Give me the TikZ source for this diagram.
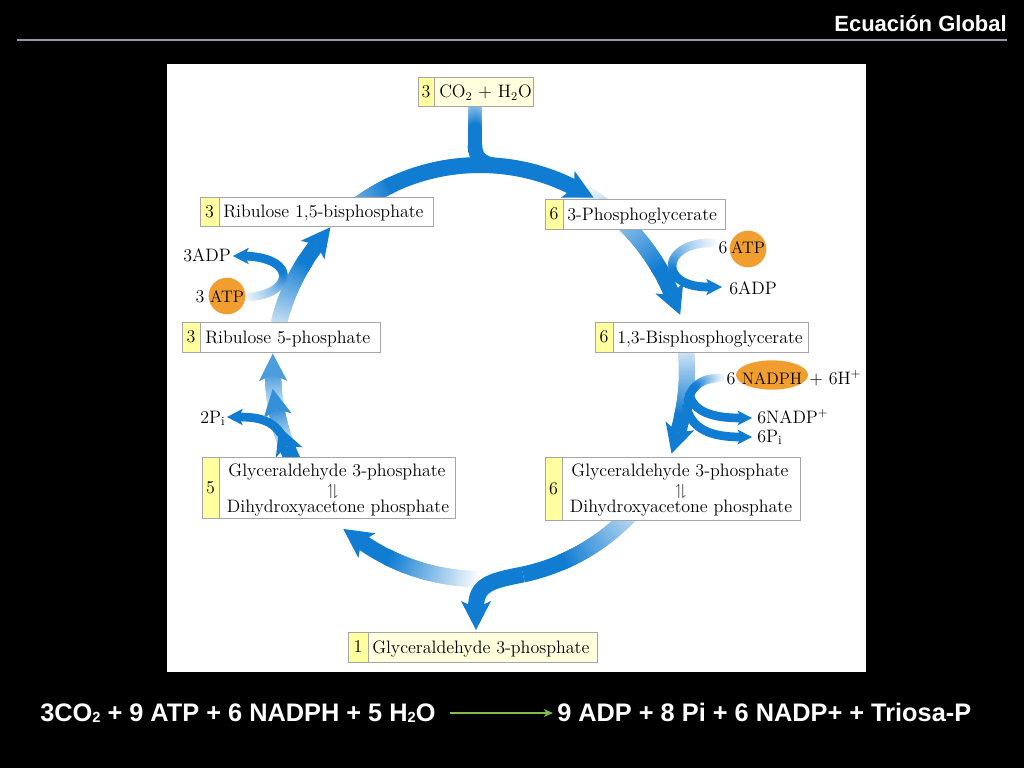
\documentclass[tikz,border=0pt]{standalone}
\usepackage{fontspec}
\usepackage{amssymb}
\usetikzlibrary{fit,calc,arrows.meta,shapes.geometric}
\newfontfamily\arialf{Liberation Sans}
\definecolor{cblue}{RGB}{16,124,210}
\definecolor{orng}{RGB}{240,158,48}
\definecolor{numyel}{RGB}{255,255,160}
\definecolor{paleyel}{RGB}{255,255,222}
\definecolor{boxgray}{RGB}{165,165,165}
\definecolor{rulecol}{RGB}{150,152,165}
\definecolor{eqgreen}{RGB}{130,190,70}
\newcommand\lbf{\fontsize{13.5}{15}\selectfont}
\newcommand\sbf{\fontsize{12.5}{14}\selectfont}
\newcommand\eqf{\arialf\bfseries\fontsize{19}{22}\selectfont}
\newcommand\eqsub[1]{\raisebox{-1pt}{\fontsize{11}{11}\selectfont #1}}
\tikzset{
  lbl/.style={inner sep=0, font=\lbf},
  boxframe/.style={draw=boxgray, line width=0.6pt, inner sep=0},
  orangeblob/.style={fill=orng, inner sep=0},
  mainw/.style={line width=12pt},
  stemw/.style={line width=11pt},
  branchw/.style={line width=6.5pt},
  harp/.style={inner sep=0, font=\fontsize{12}{13}\selectfont},
  eqtext/.style={inner sep=0, text=white, font=\eqf, text height=15pt, text depth=3pt},
  eqarrow/.style={eqgreen, line width=1.1pt, -{Stealth[length=7pt,width=6pt]}, shorten <=11pt, shorten >=3pt},
}
% gradient arc on the cycle circle
\newcommand\garc[5]{%
  \foreach \gk in {1,...,#5}{%
    \pgfmathsetmacro\garcA{#1+(#2-#1)*(\gk-1)/#5}%
    \pgfmathsetmacro\garcB{#1+(#2-#1)*\gk/#5+1.2}%
    \pgfmathtruncatemacro\gpp{#3+(#4-#3)*(\gk-0.5)/#5}%
    \draw[cblue!\gpp!white, mainw] (C) ++(\garcA:207) arc[start angle=\garcA, end angle=\garcB, radius=207];
  }}
\newcommand\sarc[2]{\draw[cblue, mainw] (C) ++(#1:207) arc[start angle=#1, end angle=#2, radius=207];}
\newcommand\headarc[3]{%
  \begin{scope}[shift={($(C)+(#1:207)$)}, rotate={-(#1)-90}, scale=#3]
    \fill[#2] (0,0) -- (-7,15) -- (22,0) -- (-7,-15) -- cycle;
  \end{scope}}
\newcommand\headat[4]{%
  \begin{scope}[shift={#1}, rotate=#2, scale=#4]
    \fill[#3] (0,0) -- (-7,15) -- (22,0) -- (-7,-15) -- cycle;
  \end{scope}}
% gradient along any path
\newcommand\gcurve[5]{%
  \path #1 foreach \gk [evaluate=\gk as \gtt using \gk/#4] in {0,...,#4} {coordinate[pos=\gtt] (g\gk)};
  \pgfmathtruncatemacro\gN{#4-1}%
  \foreach \gk [evaluate=\gk as \gkn using int(\gk+1)] in {0,...,\gN}{%
    \pgfmathtruncatemacro\gpp{min(100,#2+(#3-#2)*(\gk+0.5)/#4*1.6)}%
    \draw[cblue!\gpp!white, line cap=round, #5] (g\gk) -- (g\gkn);
  }}
% compound box
\newcommand\cbox[8]{%
  \fill[#7] (#2,#3) rectangle (#4,#5);
  \fill[numyel] (#2,#3) rectangle (#6,#5);
  \draw[boxgray, line width=0.6pt] (#6,#3) -- (#6,#5);
  \node[boxframe, fit={(#2,#3) (#4,#5)}] (#1) {};
  \node[lbl] (#1-n) at ({(#2+#6)/2},{(#3+#5)/2}) {#8};
}
\begin{document}
\begin{tikzpicture}[x=0.75pt,y=-0.75pt]
\useasboundingbox (0,0) rectangle (1024,768);
\fill[black] (0,0) rectangle (1024,768);
\node[anchor=base east, inner sep=0, text=white, font=\arialf\bfseries\fontsize{16.5}{18}\selectfont] (title) at (1007,31) {Ecuación Global};
\coordinate (r1) at (17,40);
\coordinate (r2) at (1007,40);
\draw[rulecol, line width=1.1pt] (r1) -- (r2);
\fill[white] (167,64) rectangle (866,672);
\coordinate (C) at (480,372);

% ---- cycle arrows (lines) ----
% Ru5P -> RuBP
\garc{190}{212}{10}{100}{40}
\sarc{211.6}{218}
% 3PG -> 1,3BPG
\garc{-60}{-30}{5}{100}{50}
\sarc{-30.4}{-22}
% RuBP -> 3PG
\garc{-128}{-116}{55}{100}{16}
\sarc{-116.4}{-63}
% CO2 stem
\gcurve{(475,107) -- (475,146)}{35}{100}{30}{stemw}
\draw[cblue, stemw] (475,145) .. controls (475,160) and (484,165) .. (505,166.5);
% 1,3BPG -> GAP
\garc{-8}{12}{10}{100}{36}
\sarc{11.6}{17}
% bottom -> GAP left
\garc{90}{116}{0}{100}{48}
\sarc{115.6}{125}
% GAP right -> bottom -> 1 GAP
\garc{42}{66}{25}{100}{40}
\sarc{65.6}{78}
\draw[cblue, mainw] (C) ++(78:207) .. controls (489,581) and (476,585) .. (476,608);
% GAP left -> Ru5P (stacked)
\sarc{150}{159}
\garc{159}{169.6}{15}{85}{20}
\garc{169.6}{179.3}{15}{75}{20}

% ---- branch arrows ----
\gcurve{(246,297) .. controls (292,296) and (300,258) .. (245,256)}{5}{100}{40}{branchw}
\draw[cblue, branchw] (281,434) .. controls (272,420) and (258,417) .. (239,417);
\gcurve{(713,243) .. controls (662,241) and (656,288) .. (710,287)}{5}{100}{40}{branchw}
\gcurve{(720,378) .. controls (700,378) and (690,388) .. (688,402)}{5}{100}{24}{branchw}
\draw[cblue, branchw] (689,392) .. controls (692,413) and (715,418) .. (741,418);
\draw[cblue, branchw] (686,404) .. controls (690,430) and (712,437) .. (741,437);

% ---- heads ----
\headarc{218}{cblue}{1}
\headarc{-22}{cblue}{1}
\headarc{-63}{cblue}{1}
\headarc{17}{cblue}{1}
\headarc{125}{cblue}{1}
\headat{(476,608)}{-90}{cblue}{1}
\headarc{159}{cblue}{0.95}
\headarc{169.6}{cblue!85!white}{0.95}
\headarc{179.3}{cblue!75!white}{0.95}
\headat{(245,256)}{180}{cblue}{0.55}
\headat{(239,417)}{180}{cblue}{0.55}
\headat{(710,287)}{0}{cblue}{0.55}
\headat{(741,418)}{0}{cblue}{0.5}
\headat{(741,437)}{0}{cblue}{0.5}

% ---- boxes ----
\cbox{co2}{418}{77}{533}{106}{434}{paleyel}{3}
\node[lbl, anchor=base west] (co2-t) at (439,97.5) {CO$_2$ + H$_2$O};
\cbox{rubp}{200}{197}{433}{226}{219}{white}{3}
\node[lbl, anchor=base west] (rubp-t) at (223,217.5) {Ribulose 1,5-bisphosphate};
\cbox{pga}{545}{199}{725}{229}{563}{white}{6}
\node[lbl, anchor=base west] (pga-t) at (567,220) {3-Phosphoglycerate};
\cbox{bpg}{595}{322}{808}{352}{613}{white}{6}
\node[lbl, anchor=base west] (bpg-t) at (617,343) {1,3-Bisphosphoglycerate};
\cbox{ru5p}{182}{322}{380}{352}{200}{white}{3}
\node[lbl, anchor=base west] (ru5p-t) at (205,343) {Ribulose 5-phosphate};
\cbox{gapl}{202}{457}{455}{518}{219}{white}{5}
\node[lbl, anchor=base] (gapl-a) at (337,476) {Glyceraldehyde 3-phosphate};
\node[harp] (gapl-h) at (333,492) {$\upharpoonleft\!\downharpoonright$};
\node[lbl, anchor=base] (gapl-b) at (338,512) {Dihydroxyacetone phosphate};
\cbox{gapr}{545}{457}{800}{520}{562}{white}{6}
\node[lbl, anchor=base] (gapr-a) at (680,476) {Glyceraldehyde 3-phosphate};
\node[harp] (gapr-h) at (681,492) {$\upharpoonleft\!\downharpoonright$};
\node[lbl, anchor=base] (gapr-b) at (681,512) {Dihydroxyacetone phosphate};
\cbox{gap1}{348}{632}{597}{662}{368}{paleyel}{1}
\node[lbl, anchor=base west] (gap1-t) at (372,653) {Glyceraldehyde 3-phosphate};

% ---- cofactors ----
\node[lbl, anchor=base west] (adp3) at (183,261) {3ADP};
\node[lbl, anchor=base] (n3) at (200,302.5) {3};
\node[circle, orangeblob, minimum size=27.5pt] (atpL) at (227,296) {};
\node[lbl, font=\sbf, anchor=base] (atpL-t) at (227,302) {ATP};
\node[lbl, anchor=base west] (pi2) at (200,423) {2P$_\mathrm{i}$};
\node[lbl, anchor=base] (n6a) at (723,253) {6};
\node[circle, orangeblob, minimum size=27.5pt] (atpR) at (748,249) {};
\node[lbl, font=\sbf, anchor=base] (atpR-t) at (748,253) {ATP};
\node[lbl, anchor=base west] (adp6) at (729,294) {6ADP};
\node[lbl, anchor=base] (n6b) at (731,384) {6};
\node[ellipse, orangeblob, minimum width=54pt, minimum height=22pt] (nadph) at (772,375) {};
\node[lbl, font=\sbf, anchor=base] (nadph-t) at (772,384) {NADPH};
\node[lbl, anchor=base west] (h6) at (809,384) {+ 6H$^+$};
\node[lbl, anchor=base west] (nadp6) at (757,423) {6NADP$^+$};
\node[lbl, anchor=base west] (pi6) at (757,442) {6P$_\mathrm{i}$};

% ---- global equation ----
\node[eqtext, anchor=base west] (lhs) at (40,721) {3CO\eqsub{2} + 9 ATP + 6 NADPH + 5 H\eqsub{2}O};
\node[eqtext, anchor=base west] (rhs) at (557,721) {9 ADP + 8 Pi + 6 NADP+ + Triosa-P};
\draw[eqarrow] (lhs.east) -- (rhs.west);
\end{tikzpicture}
\end{document}
